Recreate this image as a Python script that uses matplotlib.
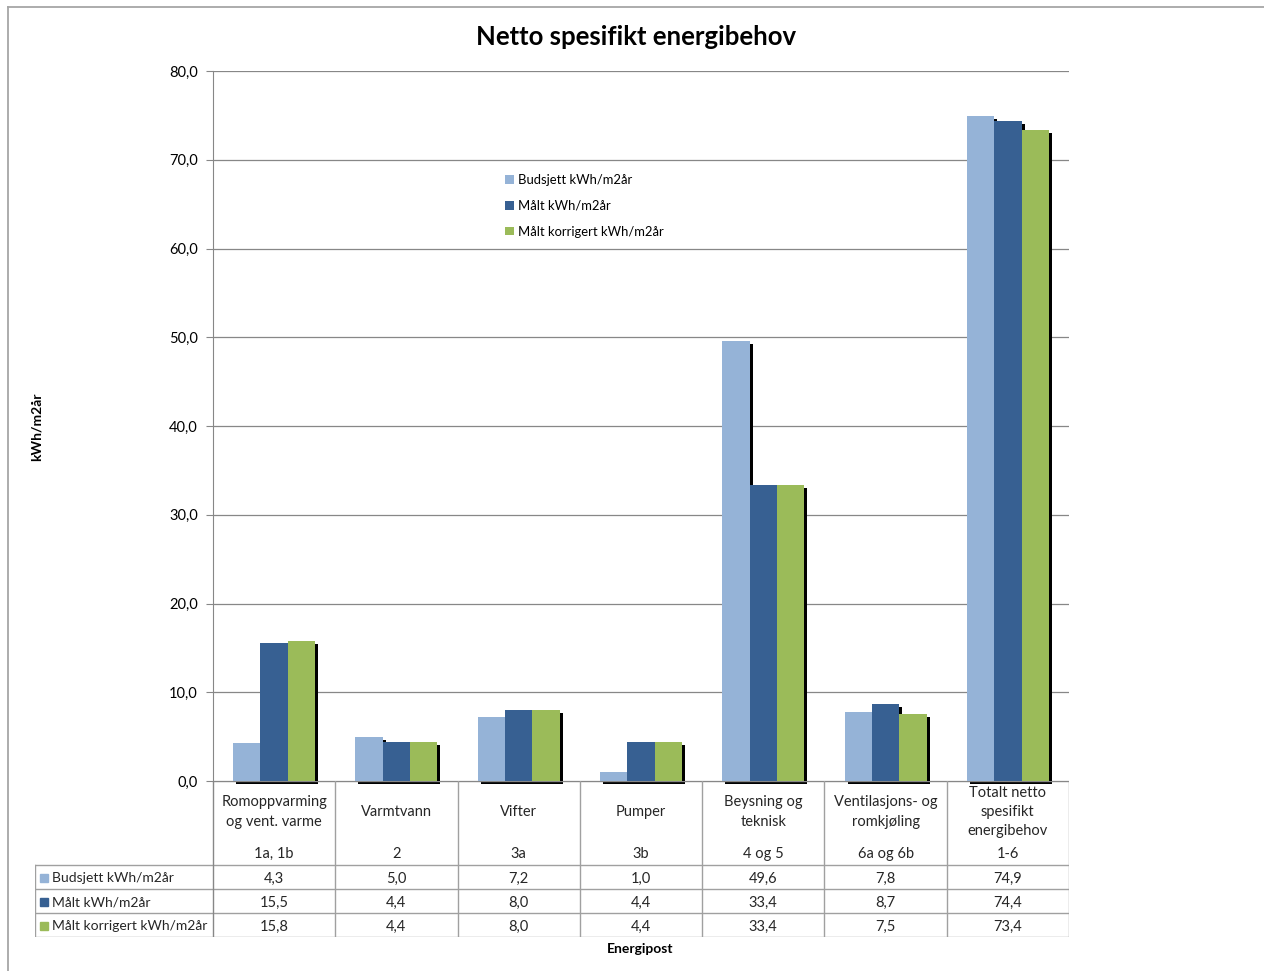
import matplotlib
matplotlib.use("Agg")
import matplotlib.pyplot as plt
from matplotlib.patches import Rectangle
from matplotlib.lines import Line2D
from matplotlib.transforms import ScaledTranslation

plt.rcParams['font.family'] = ['Lato', 'DejaVu Sans']

# ---- data ----
categories = ["Romoppvarming\nog vent. varme", "Varmtvann", "Vifter", "Pumper",
              "Beysning og\nteknisk", "Ventilasjons- og\nromkjøling",
              "Totalt netto\nspesifikt\nenergibehov"]
codes = ["1a, 1b", "2", "3a", "3b", "4 og 5", "6a og 6b", "1-6"]
series_names = ["Budsjett kWh/m2år", "Målt kWh/m2år", "Målt korrigert kWh/m2år"]
budsjett = [4.3, 5.0, 7.2, 1.0, 49.6, 7.8, 74.9]
malt = [15.5, 4.4, 8.0, 4.4, 33.4, 8.7, 74.4]
malt_korr = [15.8, 4.4, 8.0, 4.4, 33.4, 7.5, 73.4]
yticks = [0, 10, 20, 30, 40, 50, 60, 70, 80]

series = [budsjett, malt, malt_korr]
colors = ["#95B3D7", "#376092", "#9BBB59"]

W, H = 1264, 971
fig = plt.figure(figsize=(W / 100, H / 100), dpi=100)
fig.patch.set_facecolor("white")

def fx(px):
    return px / W

def fy(py):
    return 1 - py / H

# outer chart border
fig.add_artist(Line2D([fx(8), fx(8)], [fy(7), fy(975)], color="#A6A6A6", lw=1.3))
fig.add_artist(Line2D([fx(8), fx(1270)], [fy(7), fy(7)], color="#A6A6A6", lw=1.3))

# plot area
L, R, T, B = 213, 1069, 71, 781
ax = fig.add_axes([fx(L), fy(B), fx(R - L), (B - T) / H])
n = len(categories)
ax.set_xlim(-0.5, n - 0.5)
ax.set_ylim(0, 80)
ax.set_yticks(yticks)
ax.set_yticklabels([f"{v:.1f}".replace(".", ",") for v in yticks], fontsize=10.5)
ax.set_xticks([])
for s in ["top", "right", "bottom"]:
    ax.spines[s].set_visible(False)
ax.spines["left"].set_color("#878787")
ax.tick_params(axis="y", length=5, color="#878787", pad=6)
ax.yaxis.grid(True, color="#878787", lw=0.9)
ax.set_axisbelow(True)

bw = 0.2235
offs = [-bw, 0, bw]
xs = list(range(n))
shadow_tr = ax.transData + ScaledTranslation(3 / 100, -3 / 100, fig.dpi_scale_trans)
for i, (vals, col) in enumerate(zip(series, colors)):
    pos = [x + offs[i] for x in xs]
    ax.bar(pos, vals, width=bw, color="black", transform=shadow_tr, zorder=2, clip_on=False)
for i, (vals, col, name) in enumerate(zip(series, colors, series_names)):
    pos = [x + offs[i] for x in xs]
    ax.bar(pos, vals, width=bw, color=col, zorder=3, label=name, edgecolor="none")

leg = ax.legend(loc="upper left", bbox_to_anchor=((500 - L) / (R - L), (B - 169) / (B - T)),
                frameon=False, fontsize=9.4, handlelength=0.65, handleheight=0.65,
                handletextpad=0.3, labelspacing=1.05, borderaxespad=0)

# title and axis labels
fig.text(fx(636), fy(37), "Netto spesifikt energibehov", ha="center", va="center",
         fontsize=18.5, fontweight="bold")
fig.text(fx(37), fy(427), "kWh/m2år", ha="center", va="center", rotation=90,
         fontsize=10, fontweight="bold")
fig.text(fx(640), fy(949), "Energipost", ha="center", va="center",
         fontsize=10, fontweight="bold")

# data table
tax = fig.add_axes([fx(35), fy(937), fx(1069 - 35), (937 - 781) / H])
tax.set_xlim(35, 1069)
tax.set_ylim(937, 781)
tax.axis("off")
gc = "#A0A0A0"
cw = (R - L) / n
rows_y = [865, 889, 913, 937]
# horizontal lines
tax.plot([L, R], [781, 781], color="#878787", lw=1)
for yy in rows_y:
    tax.plot([35, R], [yy, yy], color=gc, lw=1)
# vertical lines
tax.plot([35, 35], [865, 937], color=gc, lw=1)
for k in range(n + 1):
    tax.plot([L + k * cw, L + k * cw], [781, 937], color=gc if k > 0 else "#878787", lw=1)

for k in range(n):
    cx = L + (k + 0.5) * cw
    tax.text(cx, 812, categories[k], ha="center", va="center", fontsize=10.5,
             linespacing=1.47, color="#262626")
    tax.text(cx, 854, codes[k], ha="center", va="center", fontsize=10.5, color="#262626")
    for r, vals in enumerate(series):
        tax.text(cx, 878.5 + 24 * r, f"{vals[k]:.1f}".replace(".", ","), ha="center",
                 va="center", fontsize=10.5, color="#262626")

for r, (name, col) in enumerate(zip(series_names, colors)):
    yc = 878 + 24 * r
    tax.add_patch(Rectangle((40, yc - 4.5), 8, 8, color=col))
    tax.text(52, yc, name, ha="left", va="center", fontsize=10.0, color="#262626")

fig.savefig("out.png", dpi=100)
